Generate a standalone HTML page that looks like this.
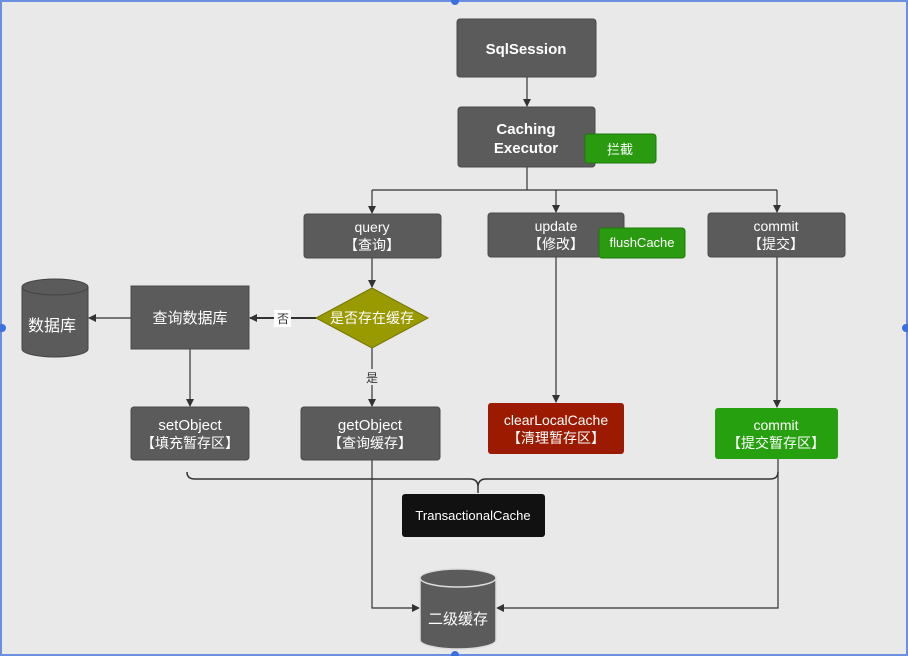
<!DOCTYPE html>
<html><head><meta charset="utf-8"><style>
html,body{margin:0;padding:0;background:#e9e9e9;}
svg{display:block;}
text{font-family:"Liberation Sans","Noto Sans CJK SC",sans-serif;fill:#fff;text-anchor:middle;}
</style></head><body>
<svg width="908" height="656" viewBox="0 0 908 656" xmlns="http://www.w3.org/2000/svg">
<defs>
<marker id="a" markerWidth="8" markerHeight="8" refX="7" refY="4" orient="auto" markerUnits="userSpaceOnUse"><path d="M0,0 L8,4 L0,8 z" fill="#333"/></marker>
</defs>
<rect width="908" height="656" fill="#e9e9e9"/>
<line x1="0" y1="1" x2="908" y2="1" stroke="#6b8fe0" stroke-width="2"/>
<line x1="0" y1="655" x2="908" y2="655" stroke="#6b8fe0" stroke-width="2"/>
<line x1="1" y1="0" x2="1" y2="656" stroke="#6b8fe0" stroke-width="2"/>
<line x1="907" y1="0" x2="907" y2="656" stroke="#6b8fe0" stroke-width="2"/>
<circle cx="455" cy="1" r="4" fill="#3d6fe0"/><circle cx="455" cy="655" r="4" fill="#3d6fe0"/>
<circle cx="2" cy="328" r="4" fill="#3d6fe0"/><circle cx="906" cy="328" r="4" fill="#3d6fe0"/>

<g stroke="#333" stroke-width="1.2" fill="none">
<line x1="527" y1="77" x2="527" y2="106" marker-end="url(#a)"/>
<polyline points="527,167 527,190"/>
<line x1="372" y1="190" x2="777" y2="190"/>
<line x1="372" y1="190" x2="372" y2="213" marker-end="url(#a)"/>
<line x1="556" y1="190" x2="556" y2="212" marker-end="url(#a)"/>
<line x1="777" y1="190" x2="777" y2="212" marker-end="url(#a)"/>
<line x1="372" y1="258" x2="372" y2="287" marker-end="url(#a)"/>
<line x1="317" y1="318" x2="250" y2="318" marker-end="url(#a)" stroke-width="2"/>
<line x1="131" y1="318" x2="89" y2="318" marker-end="url(#a)"/>
<line x1="372" y1="348" x2="372" y2="406" marker-end="url(#a)"/>
<line x1="190" y1="349" x2="190" y2="406" marker-end="url(#a)"/>
<line x1="556" y1="257" x2="556" y2="402" marker-end="url(#a)"/>
<line x1="777" y1="257" x2="777" y2="407" marker-end="url(#a)"/>
<polyline points="372,460 372,608 419,608" marker-end="url(#a)"/>
<polyline points="778,459 778,608 497,608" marker-end="url(#a)"/>
<path d="M187,472 Q187,479 195,479 L470,479 Q478,479 478,487 L478,493 M478,487 Q478,479 486,479 L770,479 Q778,479 778,472" stroke-width="1.5"/>
</g>

<g fill="#5b5b5b" stroke="#4a4a4a">
<rect x="457" y="19" width="139" height="58" rx="3"/>
<rect x="458" y="107" width="137" height="60" rx="3"/>
<rect x="304" y="214" width="137" height="44" rx="3"/>
<rect x="488" y="213" width="136" height="44" rx="3"/>
<rect x="708" y="213" width="137" height="44" rx="3"/>
<rect x="131" y="286" width="118" height="63"/>
<rect x="131" y="407" width="118" height="53" rx="3"/>
<rect x="301" y="407" width="139" height="53" rx="3"/>
</g>
<rect x="585" y="134" width="71" height="29" rx="3" fill="#2a9a10" stroke="#1f7a0a"/>
<rect x="599" y="228" width="86" height="30" rx="3" fill="#2a9a10" stroke="#1f7a0a"/>
<rect x="488" y="403" width="136" height="51" rx="3" fill="#9c1a00"/>
<rect x="715" y="408" width="123" height="51" rx="3" fill="#27a010"/>
<rect x="402" y="494" width="143" height="43" rx="3" fill="#111"/>
<polygon points="372,288 428,318 372,348 316,318" fill="#999900" stroke="#777700"/>

<g fill="#5b5b5b" stroke="#444">
<path d="M22,287 L22,349 A33,8 0 0 0 88,349 L88,287"/>
<ellipse cx="55" cy="287" rx="33" ry="8"/>
<path d="M420,578 L420,640 A38,9 0 0 0 496,640 L496,578" stroke="#ddd" stroke-width="1.5"/>
<ellipse cx="458" cy="578" rx="38" ry="9" stroke="#ddd" stroke-width="1.5"/>
</g>

<text x="526" y="54" font-size="15" font-weight="bold">SqlSession</text>
<text x="526" y="134" font-size="15" font-weight="bold">Caching</text>
<text x="526" y="153" font-size="15" font-weight="bold">Executor</text>
<text x="620" y="154" font-size="13">拦截</text>
<text x="372" y="232" font-size="14">query</text>
<text x="372" y="250" font-size="14">【查询】</text>
<text x="556" y="231" font-size="14">update</text>
<text x="556" y="249" font-size="14">【修改】</text>
<text x="642" y="247" font-size="13">flushCache</text>
<text x="776" y="231" font-size="14">commit</text>
<text x="776" y="249" font-size="14">【提交】</text>
<text x="372" y="323" font-size="14">是否存在缓存</text>
<rect x="274" y="310" width="17" height="17" fill="#fff"/>
<text x="283" y="323" font-size="12" style="fill:#333">否</text>
<rect x="364" y="369" width="16" height="16" fill="#e9e9e9"/>
<text x="372" y="382" font-size="12" style="fill:#333">是</text>
<text x="190" y="323" font-size="15">查询数据库</text>
<text x="52" y="331" font-size="16">数据库</text>
<text x="190" y="430" font-size="15">setObject</text>
<text x="190" y="448" font-size="14">【填充暂存区】</text>
<text x="370" y="430" font-size="15">getObject</text>
<text x="370" y="448" font-size="14">【查询缓存】</text>
<text x="556" y="425" font-size="14">clearLocalCache</text>
<text x="556" y="443" font-size="14">【清理暂存区】</text>
<text x="776" y="430" font-size="14">commit</text>
<text x="776" y="448" font-size="14">【提交暂存区】</text>
<text x="473" y="520" font-size="13">TransactionalCache</text>
<text x="458" y="624" font-size="15">二级缓存</text>
</svg>
</body></html>
